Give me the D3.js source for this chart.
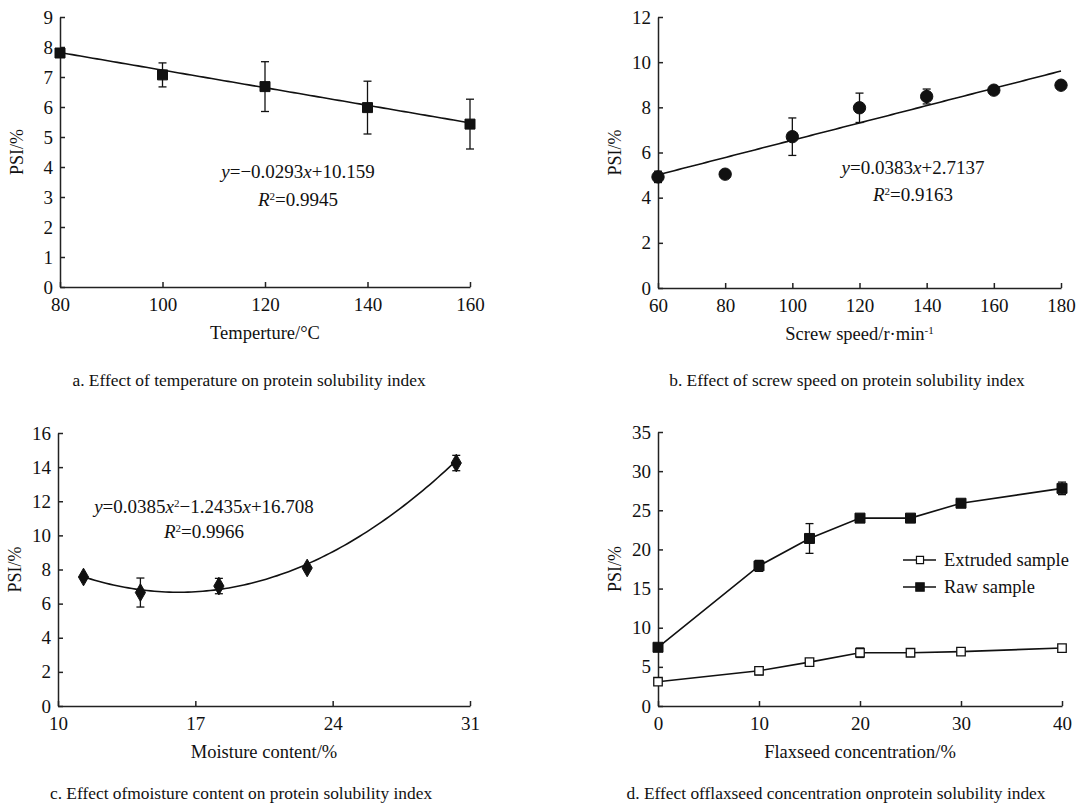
<!DOCTYPE html>
<html>
<head>
<meta charset="utf-8">
<script src="https://cdn.jsdelivr.net/npm/d3@7"></script>
<style>
  body { margin: 0; background: #fff; }
  svg, svg text { font-family: "Liberation Serif", "Times New Roman", serif; fill: #111; }
</style>
</head>
<body>
<div id="chart-container"></div>
<script>
// a. temperature
const tempX = [80, 100, 120, 140, 160];
const tempPSI = [7.8, 7.07, 6.68, 5.98, 5.43];
const tempErr = [0, 0.4, 0.83, 0.88, 0.83];
const tempFit = [-0.0293, 10.159];

// b. screw speed
const speedX = [60, 80, 100, 120, 140, 160, 180];
const speedPSI = [4.92, 5.04, 6.7, 7.98, 8.48, 8.76, 8.98];
const speedErr = [0.25, 0, 0.83, 0.65, 0.33, 0, 0];
const speedFit = [0.0383, 2.7137];

// c. moisture content
const moistX = [11.3, 14.2, 18.2, 22.7, 30.3];
const moistPSI = [7.56, 6.65, 7.03, 8.09, 14.24];
const moistErr = [0, 0.85, 0.45, 0, 0.45];
const moistFit = [0.0385, -1.2435, 16.708];

// d. flaxseed concentration
const flaxX = [0, 10, 15, 20, 25, 30, 40];
const rawPSI = [7.5, 17.9, 21.4, 24.0, 24.0, 25.9, 27.8];
const rawErr = [0, 0.7, 1.9, 0, 0, 0, 0.8];
const extPSI = [3.1, 4.5, 5.6, 6.8, 6.8, 6.95, 7.4];
const extErr = [0, 0.5, 0, 0.6, 0, 0, 0];
const seriesNames = ["Extruded sample", "Raw sample"];

const captions = [
  "a. Effect of temperature on protein solubility index",
  "b. Effect of screw speed on protein solubility index",
  "c. Effect ofmoisture content on protein solubility index",
  "d. Effect offlaxseed concentration onprotein solubility index"
];

const svg = d3.select("#chart-container")
    .append("svg")
    .attr("width", 1082)
    .attr("height", 803);

function panel(box, xDomain, xTicks, yDomain, yTicks, xTitle) {
  const x = d3.scaleLinear().domain(xDomain).range([box.left, box.right]);
  const y = d3.scaleLinear().domain(yDomain).range([box.bottom, box.top]);
  const g = svg.append("g");

  const xa = g.append("g")
      .attr("transform", `translate(0,${box.bottom})`)
      .call(d3.axisBottom(x).tickValues(xTicks).tickSizeInner(-5).tickSizeOuter(0).tickPadding(11));
  const ya = g.append("g")
      .attr("transform", `translate(${box.left},0)`)
      .call(d3.axisLeft(y).tickValues(yTicks).tickSizeInner(-5).tickSizeOuter(0).tickPadding(7));
  [xa, ya].forEach(a => {
    a.attr("font-family", null).attr("font-size", null);
    a.selectAll("path, line").attr("stroke", "#222").attr("stroke-width", 1.5);
    a.selectAll("text").attr("font-size", 19).attr("fill", "#111");
  });

  g.append("text")
      .attr("transform", `translate(${box.left - 37},${(box.top + box.bottom) / 2}) rotate(-90)`)
      .attr("text-anchor", "middle")
      .attr("font-size", 18)
      .text("PSI/%");

  const xt = g.append("text")
      .attr("x", (box.left + box.right) / 2)
      .attr("y", box.bottom + 52)
      .attr("text-anchor", "middle")
      .attr("font-size", 18.5);
  xTitle(xt);

  return { g, x, y };
}

function errorBars(p, xs, ys, es) {
  const d = xs.map((v, i) => ({ x: v, y: ys[i], e: es[i] })).filter(d => d.e > 0);
  const eb = p.g.append("g").attr("stroke", "#111").attr("stroke-width", 1.3).attr("fill", "none");
  eb.selectAll(".v").data(d).join("line")
      .attr("x1", d => p.x(d.x)).attr("x2", d => p.x(d.x))
      .attr("y1", d => p.y(d.y - d.e)).attr("y2", d => p.y(d.y + d.e));
  [-1, 1].forEach(s => {
    eb.selectAll(".c" + s).data(d).join("line")
        .attr("x1", d => p.x(d.x) - 4).attr("x2", d => p.x(d.x) + 4)
        .attr("y1", d => p.y(d.y + s * d.e)).attr("y2", d => p.y(d.y + s * d.e));
  });
}

function fitLine(p, x0, x1, f) {
  const pts = d3.range(0, 101).map(i => x0 + (x1 - x0) * i / 100);
  const line = d3.line()
      .x(v => p.x(v))
      .y(v => p.y(f.reduce((acc, c) => acc * v + c, 0)));
  p.g.append("path")
      .datum(pts)
      .attr("fill", "none")
      .attr("stroke", "#111")
      .attr("stroke-width", 1.6)
      .attr("d", line);
}

function symbols(p, xs, ys, type, size, fill) {
  p.g.append("g").selectAll("path")
      .data(xs.map((v, i) => [v, ys[i]]))
      .join("path")
      .attr("transform", d => `translate(${p.x(d[0])},${p.y(d[1])})`)
      .attr("d", d3.symbol().type(type).size(size))
      .attr("fill", fill)
      .attr("stroke", "#111")
      .attr("stroke-width", fill === "#fff" ? 1.3 : 1);
}

function equation(p, cx, by, parts) {
  const t = p.g.append("text")
      .attr("x", cx).attr("y", by)
      .attr("text-anchor", "middle")
      .attr("font-size", 19);
  parts.forEach(([s, style]) => {
    const ts = t.append("tspan").text(s);
    if (style === "i") ts.attr("font-style", "italic");
    if (style === "sup") ts.attr("font-size", 11).attr("baseline-shift", "super");
  });
}

// ---- panel a
const pa = panel({ left: 60, right: 470, top: 17, bottom: 287 }, [80, 160], [80, 100, 120, 140, 160],
  [0, 9], d3.range(0, 10), t => t.text("Temperture/°C"));
fitLine(pa, 80, 160, tempFit);
errorBars(pa, tempX, tempPSI, tempErr);
symbols(pa, tempX, tempPSI, d3.symbolSquare, 100, "#111");
equation(pa, 298, 178, [["y", "i"], ["=−0.0293"], ["x", "i"], ["+10.159"]]);
equation(pa, 298, 206, [["R", "i"], ["2", "sup"], ["=0.9945"]]);

// ---- panel b
const pb = panel({ left: 658, right: 1061, top: 17, bottom: 288 }, [60, 180], speedX,
  [0, 12], d3.range(0, 13, 2), t => {
    t.append("tspan").text("Screw speed/r·min");
    t.append("tspan").text("-1").attr("font-size", 11).attr("baseline-shift", "super");
  });
fitLine(pb, 60, 180, speedFit);
errorBars(pb, speedX, speedPSI, speedErr);
symbols(pb, speedX, speedPSI, d3.symbolCircle, 120, "#111");
equation(pb, 913, 174, [["y", "i"], ["=0.0383"], ["x", "i"], ["+2.7137"]]);
equation(pb, 913, 201, [["R", "i"], ["2", "sup"], ["=0.9163"]]);

// ---- panel c
const pc = panel({ left: 58, right: 470, top: 433, bottom: 706 }, [10, 31], [10, 17, 24, 31],
  [0, 16], d3.range(0, 17, 2), t => t.text("Moisture content/%"));
fitLine(pc, moistX[0], moistX[moistX.length - 1], moistFit);
errorBars(pc, moistX, moistPSI, moistErr);
symbols(pc, moistX, moistPSI, d3.symbolDiamond, 90, "#111");
equation(pc, 204, 513, [["y", "i"], ["=0.0385"], ["x", "i"], ["2", "sup"], ["−1.2435"], ["x", "i"], ["+16.708"]]);
equation(pc, 204, 538, [["R", "i"], ["2", "sup"], ["=0.9966"]]);

// ---- panel d
const pd = panel({ left: 658, right: 1062, top: 432, bottom: 706 }, [0, 40], [0, 10, 20, 30, 40],
  [0, 35], d3.range(0, 36, 5), t => t.text("Flaxseed concentration/%"));
const segLine = d3.line().x(d => pd.x(d[0])).y(d => pd.y(d[1]));
[extPSI, rawPSI].forEach(vals => {
  pd.g.append("path")
      .datum(flaxX.map((v, i) => [v, vals[i]]))
      .attr("fill", "none").attr("stroke", "#111").attr("stroke-width", 1.6)
      .attr("d", segLine);
});
errorBars(pd, flaxX, rawPSI, rawErr);
errorBars(pd, flaxX, extPSI, extErr);
symbols(pd, flaxX, rawPSI, d3.symbolSquare, 100, "#111");
symbols(pd, flaxX, extPSI, d3.symbolSquare, 72, "#fff");

// legend
const leg = pd.g.append("g").attr("transform", "translate(903,560)");
seriesNames.forEach((name, i) => {
  const row = leg.append("g").attr("transform", `translate(0,${i * 27})`);
  row.append("line").attr("x1", 0).attr("x2", 33).attr("stroke", "#111").attr("stroke-width", 1.5);
  row.append("path")
      .attr("transform", "translate(17,0)")
      .attr("d", d3.symbol().type(d3.symbolSquare).size(i === 0 ? 50 : 70))
      .attr("fill", i === 0 ? "#fff" : "#111")
      .attr("stroke", "#111").attr("stroke-width", 1.2);
  row.append("text").attr("x", 41).attr("y", 6).attr("font-size", 18.5).text(name);
});

// captions
[[249, 386], [847, 386], [241, 799], [836, 799]].forEach((pos, i) => {
  svg.append("text")
      .attr("x", pos[0]).attr("y", pos[1])
      .attr("text-anchor", "middle")
      .attr("font-size", 17.4)
      .text(captions[i]);
});
</script>
</body>
</html>
